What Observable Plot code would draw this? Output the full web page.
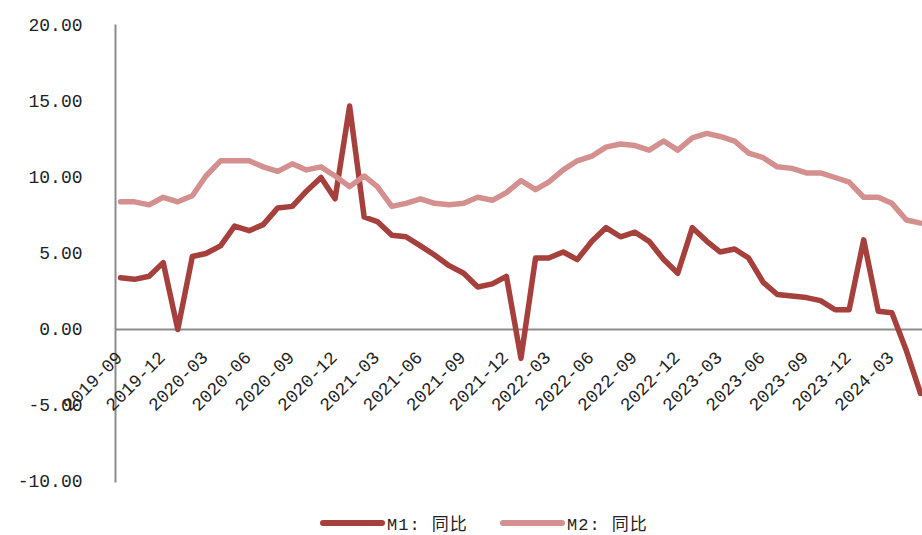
<!DOCTYPE html>
<html>
<head>
<meta charset="utf-8">
<script src="https://cdn.jsdelivr.net/npm/d3@7"></script>
<script src="https://cdn.jsdelivr.net/npm/@observablehq/plot@0.6"></script>
<style>
  body { margin: 0; background: #fff; }
  #chart svg { display: block; }
  #legend { height: 25px; display: flex; align-items: center; padding-left: 320px; font-family: "Liberation Mono", "Noto Sans CJK SC", monospace; font-size: 17px; letter-spacing: 1px; color: #222; }
  .item { display: flex; align-items: center; width: 180px; }
  .sw { width: 65px; height: 6px; border-radius: 3px; margin-right: 2px; }
</style>
</head>
<body>
<div id="chart"></div>
<div id="legend"></div>
<script>
const months = [
  "2019-09","2019-10","2019-11","2019-12",
  "2020-01","2020-02","2020-03","2020-04","2020-05","2020-06","2020-07","2020-08","2020-09","2020-10","2020-11","2020-12",
  "2021-01","2021-02","2021-03","2021-04","2021-05","2021-06","2021-07","2021-08","2021-09","2021-10","2021-11","2021-12",
  "2022-01","2022-02","2022-03","2022-04","2022-05","2022-06","2022-07","2022-08","2022-09","2022-10","2022-11","2022-12",
  "2023-01","2023-02","2023-03","2023-04","2023-05","2023-06","2023-07","2023-08","2023-09","2023-10","2023-11","2023-12",
  "2024-01","2024-02","2024-03","2024-04","2024-05"
];
const m1 = [
  3.4,3.3,3.5,4.4,
  0.0,4.8,5.0,5.5,6.8,6.5,6.9,8.0,8.1,9.1,10.0,8.6,
  14.7,7.4,7.1,6.2,6.1,5.5,4.9,4.2,3.7,2.8,3.0,3.5,
  -1.9,4.7,4.7,5.1,4.6,5.8,6.7,6.1,6.4,5.8,4.6,3.7,
  6.7,5.8,5.1,5.3,4.7,3.1,2.3,2.2,2.1,1.9,1.3,1.3,
  5.9,1.2,1.1,-1.4,-4.2
];
const m2 = [
  8.4,8.4,8.2,8.7,
  8.4,8.8,10.1,11.1,11.1,11.1,10.7,10.4,10.9,10.5,10.7,10.1,
  9.4,10.1,9.4,8.1,8.3,8.6,8.3,8.2,8.3,8.7,8.5,9.0,
  9.8,9.2,9.7,10.5,11.1,11.4,12.0,12.2,12.1,11.8,12.4,11.8,
  12.6,12.9,12.7,12.4,11.6,11.3,10.7,10.6,10.3,10.3,10.0,9.7,
  8.7,8.7,8.3,7.2,7.0
];
const tickLabels = [
  "2019-09","2019-12","2020-03","2020-06","2020-09","2020-12","2021-03","2021-06","2021-09","2021-12",
  "2022-03","2022-06","2022-09","2022-12","2023-03","2023-06","2023-09","2023-12","2024-03"
];
const yTicks = [-10, -5, 0, 5, 10, 15, 20];
const seriesNames = ["M1:同比", "M2:同比"];
const colors = ["#A5403D", "#D4908E"];

const parse = d3.utcParse("%Y-%m");
const rows = [];
months.forEach((m, i) => {
  rows.push({date: parse(m), value: m1[i], series: seriesNames[0]});
  rows.push({date: parse(m), value: m2[i], series: seriesNames[1]});
});
const tickDates = tickLabels.map(t => ({date: parse(t), label: t}));

const font = "'Liberation Mono', 'Noto Sans CJK SC', monospace";

const chart = Plot.plot({
  width: 922,
  height: 510,
  marginLeft: 115,
  marginRight: 0,
  marginTop: 25,
  marginBottom: 29,
  style: {fontFamily: font, fontSize: "18px", color: "#222", background: "#fff"},
  x: {type: "utc", domain: [parse(months[0]), parse(months[months.length - 1])], insetLeft: 5, insetRight: 2, axis: null},
  y: {domain: [-10, 20], axis: null},
  color: {domain: seriesNames, range: colors},
  marks: [
    Plot.frame({anchor: "left", stroke: "#8c8c8c", strokeWidth: 2}),
    Plot.ruleY([0], {stroke: "#8c8c8c", strokeWidth: 2}),
    Plot.axisY({ticks: yTicks, tickFormat: d => d.toFixed(2), tickSize: 0, tickPadding: 33, label: null, fontSize: 18, style: {letterSpacing: "0.5px"}}),
    Plot.line(rows, {x: "date", y: "value", z: "series", stroke: "series", strokeWidth: 5.5, strokeLinejoin: "round", strokeLinecap: "round", clip: true}),
    Plot.text(tickDates, {x: "date", y: d => 0, text: "label", rotate: -45, textAnchor: "end", lineAnchor: "bottom", dx: 3, dy: 29, fontSize: 18, fill: "#222", style: {letterSpacing: "1.2px"}})
  ]
});
document.getElementById("chart").appendChild(chart);

const legend = document.getElementById("legend");
seriesNames.forEach((name, i) => {
  const item = document.createElement("div");
  item.className = "item";
  const sw = document.createElement("div");
  sw.className = "sw";
  sw.style.background = colors[i];
  const label = document.createElement("span");
  label.textContent = name.replace(":", ": ");
  item.appendChild(sw);
  item.appendChild(label);
  legend.appendChild(item);
});
</script>
</body>
</html>
